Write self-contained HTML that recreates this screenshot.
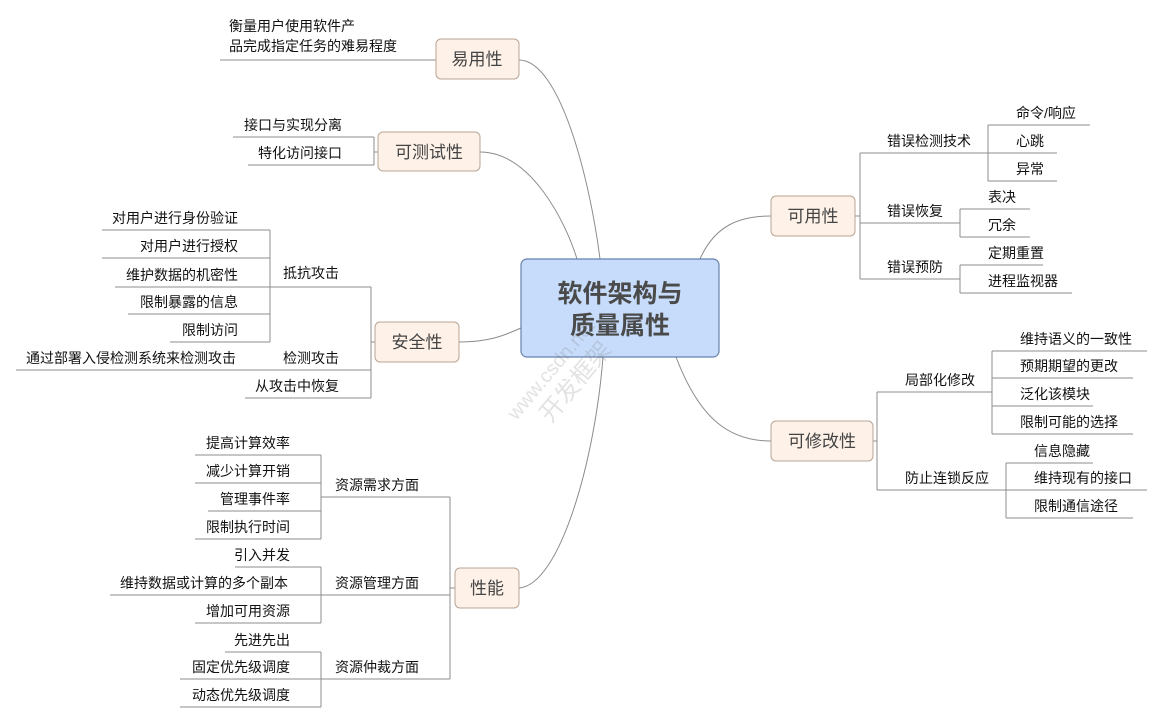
<!DOCTYPE html>
<html><head><meta charset="utf-8"><style>
html,body{margin:0;padding:0;background:#fff;}
svg text{font-family:"Liberation Sans","Noto Sans CJK SC",sans-serif;fill:#111;font-size:14px;}
.n{font-size:17px;fill:#444;}
.c{font-size:25px;font-weight:bold;fill:#4a4a4a;}
</style></head><body>
<svg width="1163" height="723" viewBox="0 0 1163 723" xmlns="http://www.w3.org/2000/svg">
<g stroke="#8c8c8c" stroke-width="1" fill="none">
<!-- curves from center -->
<path d="M519,60 C560,60 590,180 600,259"/>
<path d="M480,152 C530,152 565,220 577,259"/>
<path d="M459,342 C490,342 505,335 521,328"/>
<path d="M519,588 C560,585 595,460 603,357"/>
<path d="M771,216 C740,216 715,225 700,259"/>
<path d="M771,441 C730,441 700,420 676,357"/>
<!-- 易用性 -->
<line x1="220" y1="60" x2="436" y2="60"/>
<!-- 可测试性 -->
<line x1="233" y1="137" x2="374" y2="137"/>
<line x1="248" y1="165" x2="374" y2="165"/>
<line x1="374" y1="137" x2="374" y2="165"/>
<line x1="374" y1="152" x2="378" y2="152"/>
<!-- 安全性 -->
<line x1="102" y1="230" x2="270" y2="230"/>
<line x1="102" y1="258" x2="270" y2="258"/>
<line x1="115" y1="287" x2="371" y2="287"/>
<line x1="128" y1="314" x2="270" y2="314"/>
<line x1="170" y1="342" x2="270" y2="342"/>
<line x1="270" y1="230" x2="270" y2="342"/>
<line x1="16" y1="370" x2="371" y2="370"/>
<line x1="245" y1="398" x2="371" y2="398"/>
<line x1="371" y1="287" x2="371" y2="398"/>
<line x1="371" y1="342" x2="375" y2="342"/>
<!-- 性能 -->
<line x1="195" y1="455" x2="321" y2="455"/>
<line x1="195" y1="483" x2="321" y2="483"/>
<line x1="208" y1="511" x2="321" y2="511"/>
<line x1="195" y1="539" x2="321" y2="539"/>
<line x1="321" y1="455" x2="321" y2="539"/>
<line x1="321" y1="497" x2="450" y2="497"/>
<line x1="235" y1="567" x2="321" y2="567"/>
<line x1="110" y1="595" x2="450" y2="595"/>
<line x1="195" y1="623" x2="321" y2="623"/>
<line x1="321" y1="567" x2="321" y2="623"/>
<line x1="225" y1="652" x2="321" y2="652"/>
<line x1="180" y1="679" x2="450" y2="679"/>
<line x1="180" y1="707" x2="321" y2="707"/>
<line x1="321" y1="652" x2="321" y2="707"/>
<line x1="450" y1="497" x2="450" y2="679"/>
<line x1="450" y1="588" x2="455" y2="588"/>
<!-- 可用性 -->
<line x1="855" y1="216" x2="860" y2="216"/>
<line x1="860" y1="153" x2="860" y2="279"/>
<line x1="860" y1="153" x2="1057" y2="153"/>
<line x1="988" y1="125" x2="1090" y2="125"/>
<line x1="988" y1="181" x2="1057" y2="181"/>
<line x1="988" y1="125" x2="988" y2="181"/>
<line x1="860" y1="223" x2="960" y2="223"/>
<line x1="960" y1="209" x2="1030" y2="209"/>
<line x1="960" y1="237" x2="1030" y2="237"/>
<line x1="960" y1="209" x2="960" y2="237"/>
<line x1="860" y1="279" x2="960" y2="279"/>
<line x1="960" y1="265" x2="1043" y2="265"/>
<line x1="960" y1="293" x2="1072" y2="293"/>
<line x1="960" y1="265" x2="960" y2="293"/>
<!-- 可修改性 -->
<line x1="873" y1="441" x2="877" y2="441"/>
<line x1="877" y1="392" x2="877" y2="490"/>
<line x1="877" y1="392" x2="992" y2="392"/>
<line x1="992" y1="351" x2="992" y2="434"/>
<line x1="992" y1="351" x2="1147" y2="351"/>
<line x1="992" y1="378" x2="1133" y2="378"/>
<line x1="992" y1="406" x2="1093" y2="406"/>
<line x1="992" y1="434" x2="1133" y2="434"/>
<line x1="877" y1="490" x2="1147" y2="490"/>
<line x1="1006" y1="463" x2="1006" y2="518"/>
<line x1="1006" y1="463" x2="1093" y2="463"/>
<line x1="1006" y1="518" x2="1133" y2="518"/>
</g>
<!-- nodes -->
<g stroke="#b9a594" stroke-width="1" fill="#fdf1e8">
<rect x="436" y="39" width="83" height="40" rx="5"/>
<rect x="378" y="132" width="102" height="39" rx="5"/>
<rect x="375" y="322" width="84" height="40" rx="5"/>
<rect x="455" y="568" width="64" height="40" rx="5"/>
<rect x="771" y="196" width="84" height="40" rx="5"/>
<rect x="771" y="421" width="102" height="40" rx="5"/>
</g>
<rect x="521" y="259" width="198" height="98" rx="6" fill="#c7dcfa" stroke="#6681ad" stroke-width="1.2"/>
<text class="c" x="620" y="302" text-anchor="middle">软件架构与</text>
<text class="c" x="620" y="334" text-anchor="middle">质量属性</text>
<g class="n">
<text class="n" x="477" y="65" text-anchor="middle">易用性</text>
<text class="n" x="429" y="158" text-anchor="middle">可测试性</text>
<text class="n" x="417" y="348" text-anchor="middle">安全性</text>
<text class="n" x="487" y="594" text-anchor="middle">性能</text>
<text class="n" x="813" y="222" text-anchor="middle">可用性</text>
<text class="n" x="822" y="447" text-anchor="middle">可修改性</text>
</g>
<!-- left texts -->
<text x="229" y="31">衡量用户使用软件产</text>
<text x="229" y="51">品完成指定任务的难易程度</text>
<g text-anchor="end">
<text x="342" y="130">接口与实现分离</text>
<text x="342" y="158">特化访问接口</text>
<text x="238" y="223">对用户进行身份验证</text>
<text x="238" y="251">对用户进行授权</text>
<text x="238" y="280">维护数据的机密性</text>
<text x="238" y="307">限制暴露的信息</text>
<text x="238" y="335">限制访问</text>
<text x="236" y="363">通过部署入侵检测系统来检测攻击</text>
<text x="290" y="448">提高计算效率</text>
<text x="290" y="476">减少计算开销</text>
<text x="290" y="504">管理事件率</text>
<text x="290" y="532">限制执行时间</text>
<text x="290" y="560">引入并发</text>
<text x="288" y="588">维持数据或计算的多个副本</text>
<text x="290" y="616">增加可用资源</text>
<text x="290" y="645">先进先出</text>
<text x="290" y="672">固定优先级调度</text>
<text x="290" y="700">动态优先级调度</text>
</g>
<text x="283" y="278">抵抗攻击</text>
<text x="283" y="363">检测攻击</text>
<text x="255" y="391">从攻击中恢复</text>
<text x="335" y="490">资源需求方面</text>
<text x="335" y="588">资源管理方面</text>
<text x="335" y="672">资源仲裁方面</text>
<!-- right texts -->
<text x="887" y="146">错误检测技术</text>
<text x="1016" y="118">命令/响应</text>
<text x="1016" y="146">心跳</text>
<text x="1016" y="174">异常</text>
<text x="887" y="216">错误恢复</text>
<text x="988" y="202">表决</text>
<text x="988" y="230">冗余</text>
<text x="887" y="272">错误预防</text>
<text x="988" y="258">定期重置</text>
<text x="988" y="286">进程监视器</text>
<text x="905" y="385">局部化修改</text>
<text x="1020" y="344">维持语义的一致性</text>
<text x="1020" y="371">预期期望的更改</text>
<text x="1020" y="399">泛化该模块</text>
<text x="1020" y="427">限制可能的选择</text>
<text x="905" y="483">防止连锁反应</text>
<text x="1034" y="456">信息隐藏</text>
<text x="1034" y="483">维持现有的接口</text>
<text x="1034" y="511">限制通信途径</text>
<!-- watermark -->
<g transform="translate(555,375) rotate(-50)" opacity="0.18">
<text x="-60" y="0" style="font-size:20px;fill:#666">www.csdn.net</text>
<text x="-40" y="28" style="font-size:24px;fill:#666">开发框架</text>
</g>
</svg>
</body></html>
